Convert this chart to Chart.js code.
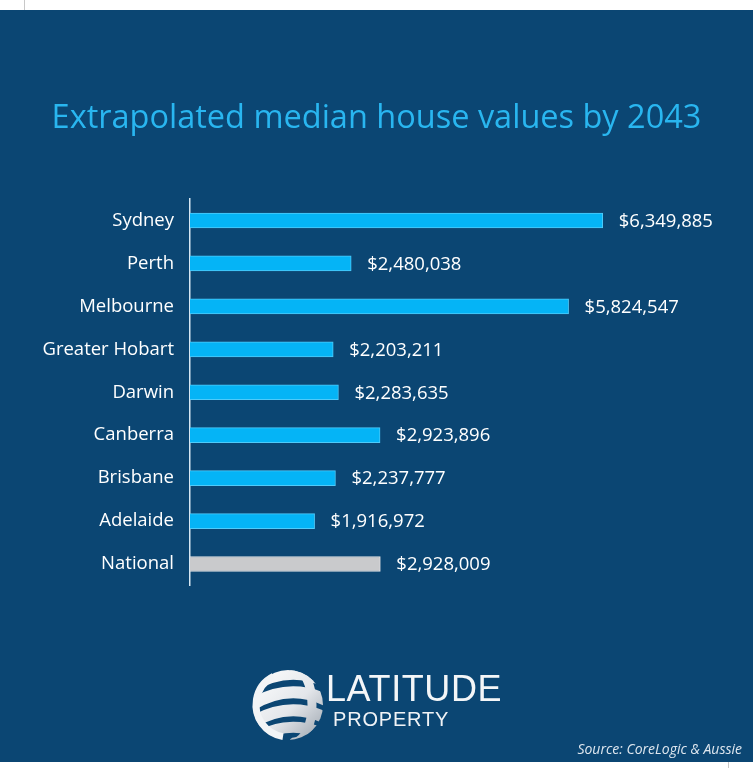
<!DOCTYPE html>
<html>
<head>
<meta charset="utf-8">
<script src="https://cdn.jsdelivr.net/npm/chart.js@4.4.1/dist/chart.umd.min.js"></script>
<style>
  html, body { margin: 0; padding: 0; background: #ffffff; }
  body { width: 753px; height: 768px; position: relative; overflow: hidden; }
  #panel { position: absolute; left: 0; top: 10px; width: 753px; height: 752px; background: #0b4673; }
  #tickTop { position: absolute; left: 24px; top: 0; width: 1px; height: 10px; background: #c8c8c8; }
  #tickBot { position: absolute; left: 728px; top: 762px; width: 1px; height: 6px; background: #c8c8c8; }
  #wrap { position: absolute; left: 0; top: 0; width: 753px; height: 768px; }
  .txt { position: absolute; color: #ffffff; white-space: nowrap; }
  #brand1 { left: 326px; top: 668px; font-family: "Liberation Sans", Arial, sans-serif; font-size: 36px; letter-spacing: 0.6px; color: #f4f6f8; }
  #brand2 { left: 333px; top: 708px; font-family: "Liberation Sans", Arial, sans-serif; font-size: 20px; letter-spacing: 0.8px; color: #f0f3f6; }
  #source { right: 11px; top: 739px; font-family: "Open Sans", sans-serif; font-style: italic; font-size: 14px; color: #dfe7ef; }
</style>
</head>
<body>
<div id="panel"></div>
<div id="tickTop"></div>
<div id="tickBot"></div>
<div id="wrap"><canvas id="c" width="753" height="768"></canvas></div>
<div class="txt" id="brand1">LATITUDE</div>
<div class="txt" id="brand2">PROPERTY</div>
<div class="txt" id="source">Source: CoreLogic &amp; Aussie</div>
<script>
const titleText = "Extrapolated median house values by 2043";
const categories = ["Sydney", "Perth", "Melbourne", "Greater Hobart", "Darwin", "Canberra", "Brisbane", "Adelaide", "National"];
const values = [6349885, 2480038, 5824547, 2203211, 2283635, 2923896, 2237777, 1916972, 2928009];
const barColors = ["#05b4f6", "#05b4f6", "#05b4f6", "#05b4f6", "#05b4f6", "#05b4f6", "#05b4f6", "#05b4f6", "#c9cacc"];
const borderColors = ["#4fcbfa", "#4fcbfa", "#4fcbfa", "#4fcbfa", "#4fcbfa", "#4fcbfa", "#4fcbfa", "#4fcbfa", "#e0e1e3"];

const fmt = v => "$" + v.toLocaleString("en-US");

const valueLabels = {
  id: "valueLabels",
  afterDatasetsDraw(chart) {
    const ctx = chart.ctx;
    const meta = chart.getDatasetMeta(0);
    ctx.save();
    ctx.font = '18.5px "Open Sans", sans-serif';
    ctx.fillStyle = "#ffffff";
    ctx.textAlign = "left";
    ctx.textBaseline = "middle";
    meta.data.forEach((bar, i) => {
      ctx.fillText(fmt(values[i]), bar.x + 16, bar.y + 1);
    });
    ctx.restore();
  }
};

const globeLogo = {
  id: "globeLogo",
  afterDraw(chart) {
    const ctx = chart.ctx;
    const cx = 288, cy = 705, r = 35;
    ctx.save();
    ctx.beginPath();
    ctx.arc(cx, cy, r, 0, Math.PI * 2);
    ctx.clip();
    ctx.fillStyle = "#0b4673";
    ctx.fillRect(cx - r, cy - r, 2 * r, 2 * r);
    const g = ctx.createLinearGradient(cx - r, cy - r, cx + r, cy + r);
    g.addColorStop(0, "#ffffff");
    g.addColorStop(0.55, "#e3e6ea");
    g.addColorStop(1, "#9aa3ad");
    ctx.strokeStyle = g;
    ctx.lineCap = "round";
    const bands = [
      {y: -26, w: 11}, {y: -8, w: 12}, {y: 10, w: 12}, {y: 27, w: 11}
    ];
    bands.forEach(b => {
      ctx.lineWidth = b.w;
      ctx.beginPath();
      ctx.moveTo(cx - r - 5, cy + b.y + 10);
      ctx.quadraticCurveTo(cx, cy + b.y - 16, cx + r + 5, cy + b.y + 4);
      ctx.stroke();
    });
    ctx.lineWidth = 9;
    ctx.beginPath();
    ctx.ellipse(cx + 6, cy, 18, r + 2, 0, -Math.PI / 2, Math.PI / 2);
    ctx.stroke();
    ctx.restore();
    ctx.save();
    ctx.beginPath();
    ctx.arc(cx, cy, r - 3, Math.PI * 0.55, Math.PI * 1.35);
    ctx.lineWidth = 7;
    ctx.strokeStyle = "#f2f4f6";
    ctx.stroke();
    ctx.restore();
  }
};

new Chart(document.getElementById("c"), {
  type: "bar",
  data: {
    labels: categories,
    datasets: [{
      data: values,
      backgroundColor: barColors,
      borderColor: borderColors,
      borderWidth: 1,
      borderSkipped: "left",
      barThickness: 15
    }]
  },
  options: {
    indexAxis: "y",
    responsive: false,
    animation: false,
    events: [],
    layout: { padding: { top: 10, bottom: 182.5, left: 43, right: 43 } },
    plugins: {
      legend: { display: false },
      tooltip: { enabled: false },
      title: {
        display: true,
        text: titleText,
        color: "#29b6f0",
        font: { family: '"Open Sans", sans-serif', size: 32.5, weight: "normal", lineHeight: 1.2 },
        padding: { top: 89, bottom: 61 }
      }
    },
    scales: {
      x: {
        display: false,
        min: 0,
        max: 8000000
      },
      y: {
        afterFit(scale) { scale.width = 147; },
        grid: { display: false, drawTicks: false },
        border: { display: true, color: "#d6e6f2", width: 1.5 },
        ticks: {
          color: "#ffffff",
          padding: 16,
          font: { family: '"Open Sans", sans-serif', size: 18.5 }
        }
      }
    }
  },
  plugins: [valueLabels, globeLogo]
});
</script>
</body>
</html>
